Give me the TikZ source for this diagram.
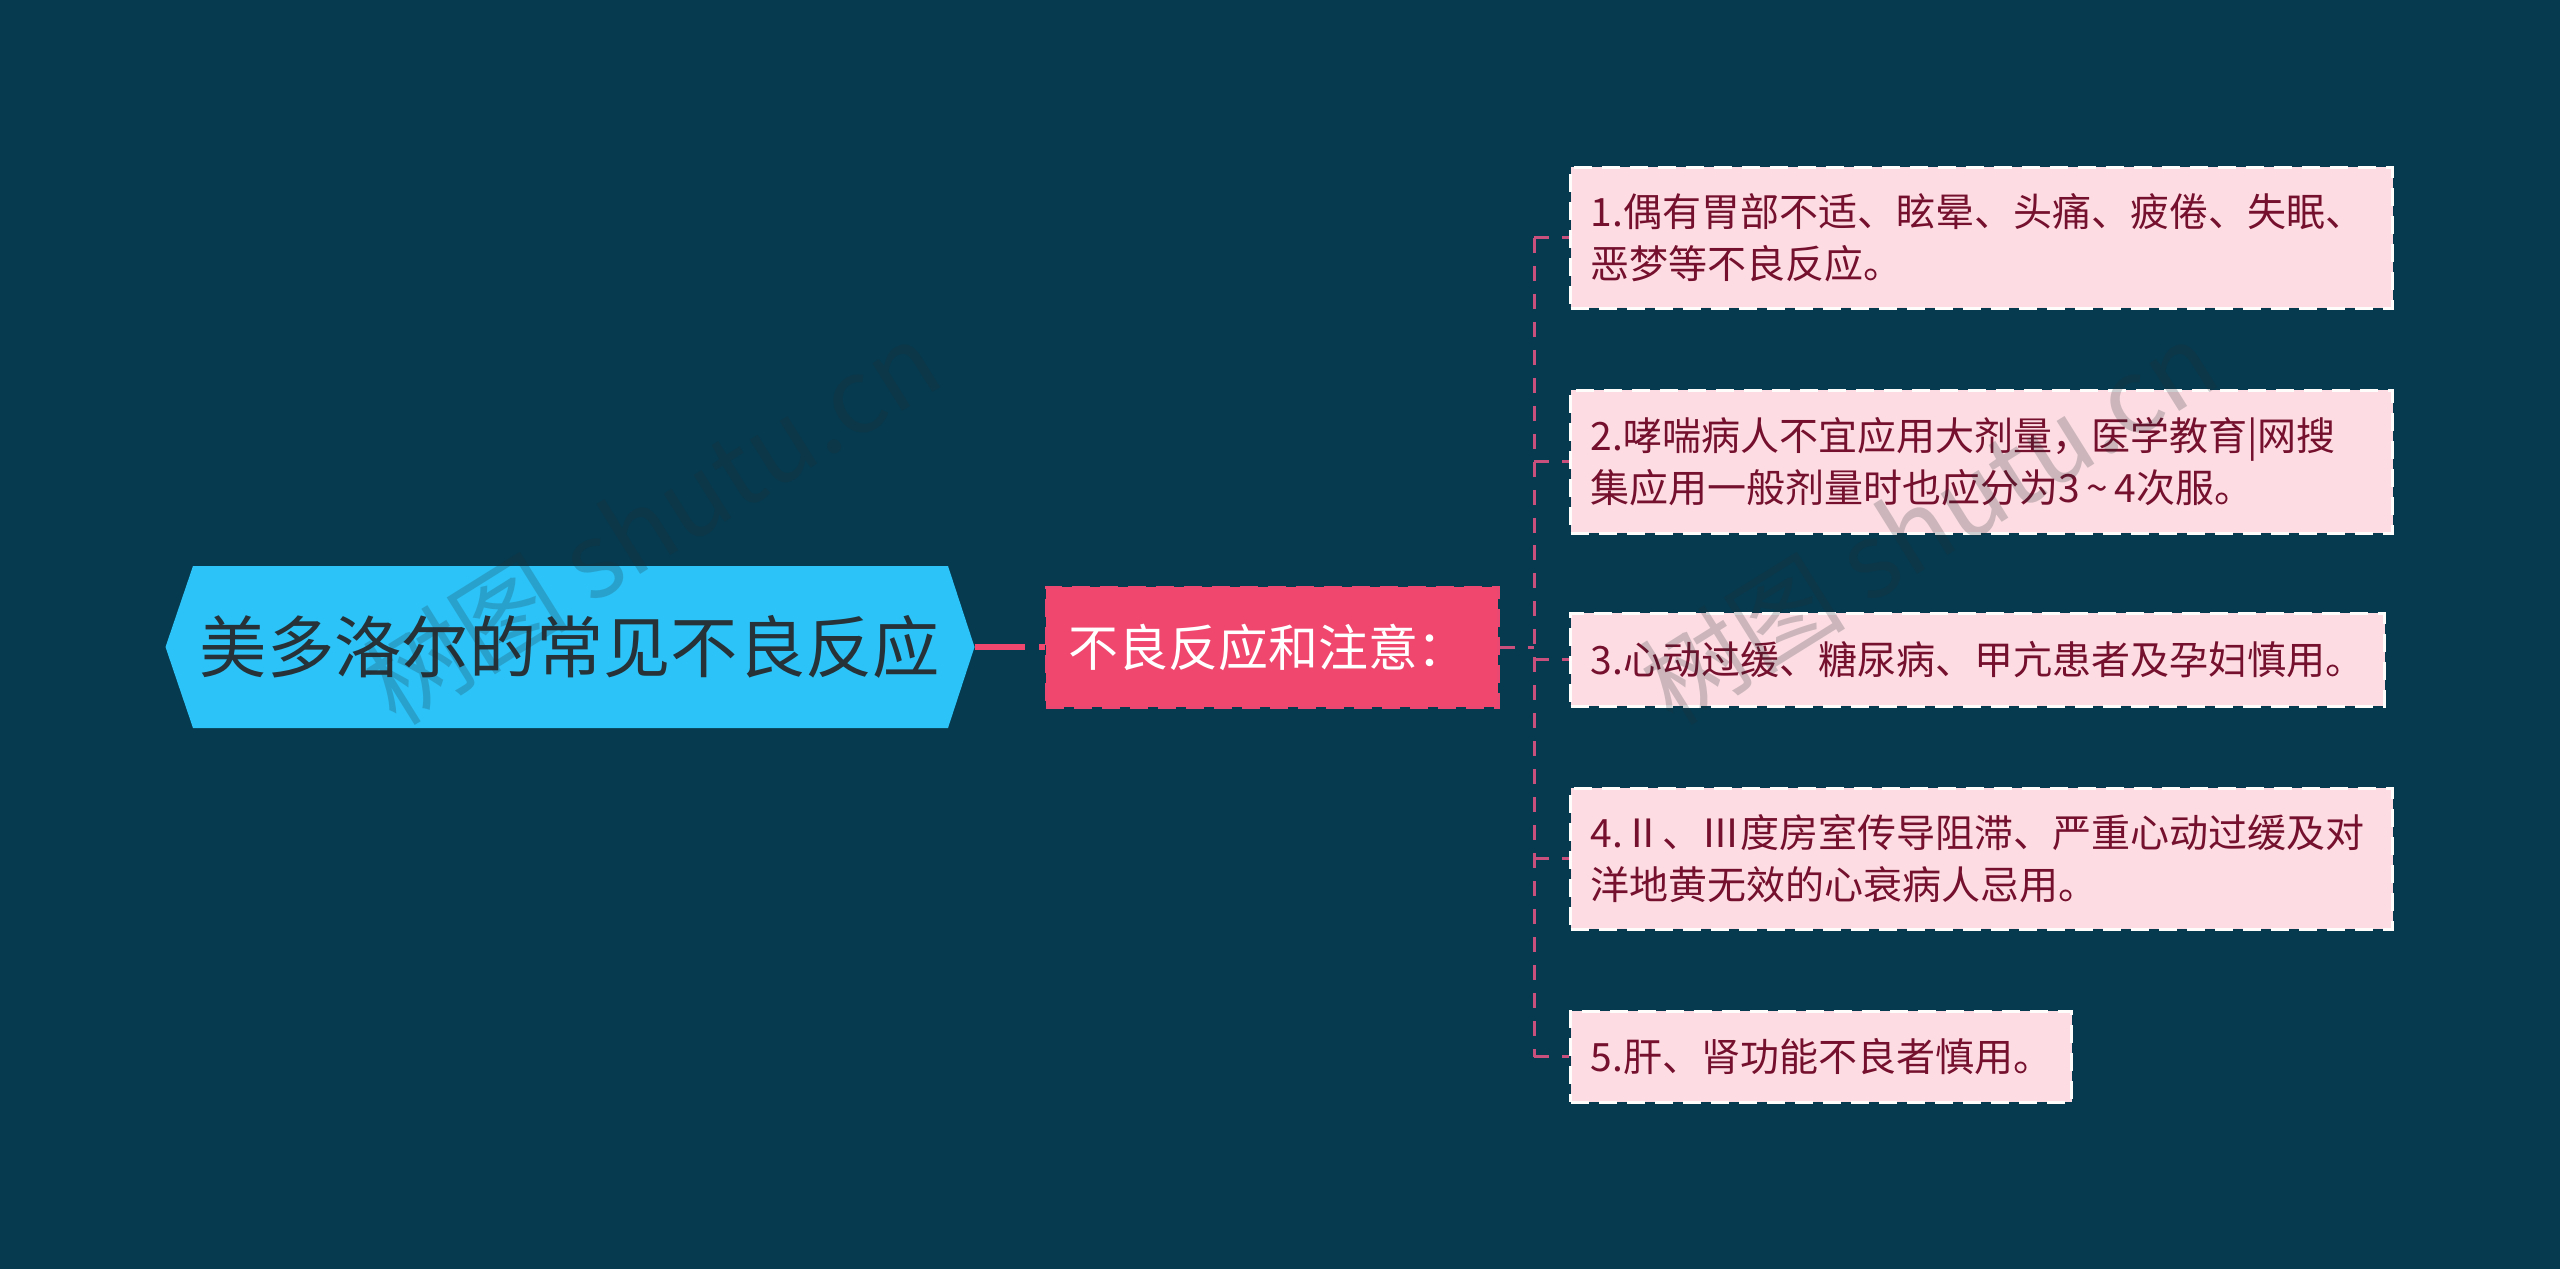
\documentclass[tikz,border=0pt]{standalone}
\usepackage{fontspec}
\setmainfont{Noto Sans CJK SC}
\definecolor{bgblue}{HTML}{063A4F}
\definecolor{rootblue}{HTML}{2CC3F8}
\definecolor{rootink}{HTML}{263238}
\definecolor{topicpink}{HTML}{F0476F}
\definecolor{linepink}{HTML}{C94F7C}
\definecolor{leafpink}{HTML}{FDDDE3}
\definecolor{leafink}{HTML}{75112E}
\definecolor{stampgray}{HTML}{1E2D32}
\tikzset{
  rootbox/.style={inner sep=0pt, minimum width=8.09cm, minimum height=1.62cm,
    text=rootink, font=\fontsize{19.15}{23}\selectfont},
  topicbox/.style={rectangle, draw=topicpink!85!linepink, line width=0.3mm, fill=topicpink,
    dash pattern=on 1.8mm off 1mm, minimum width=4.52cm, minimum height=1.2cm, inner sep=0pt,
    text=white, font=\fontsize{14.2}{18}\selectfont},
  leafbox/.style={rectangle, draw=white!90!leafpink, line width=0.3mm, fill=leafpink,
    dash pattern=on 1.8mm off 1mm, anchor=west, inner xsep=2mm, inner ysep=0pt,
    text width=#1, align=left, text=leafink, font=\fontsize{11.1}{14.8}\selectfont},
  rootlink/.style={topicpink, line width=0.6mm, dash pattern=on 5mm off 1.4mm},
  branch/.style={linepink, line width=0.3mm, dash pattern=on 1.5mm off 1.3mm},
  stamp/.style={rotate=32, text=stampgray, text opacity=0.22, font=\fontsize{29.5}{34}\selectfont}
}
\begin{document}
\begin{tikzpicture}[x=0.1mm,y=-0.1mm]

    % --- Page ---
    \useasboundingbox (0,0) rectangle (2560,1269);
    \fill[bgblue] (0,0) rectangle (2560,1269);

    % --- Root hexagon ---
    \fill[rootblue] (165.5,647) -- (193,566) -- (948,566) -- (974.5,647) -- (948,728) -- (193,728) -- cycle;
    \node[rootbox] (root) at (570,647) {\raisebox{0.2mm}{美多洛尔的常见不良反应}};

    % --- Topic ---
    \node[topicbox] (topic) at (1272,647) {\hspace*{-0.75mm}不良反应和注意：};

    % --- Leaves ---
    \node[leafbox=7.82cm, minimum height=1.41cm] (leafA) at (1569,237.5) {1.偶有胃部不适、眩晕、头痛、疲倦、失眠、\\恶梦等不良反应。};
    \node[leafbox=7.82cm, minimum height=1.43cm] (leafB) at (1569,461.5) {2.哮喘病人不宜应用大剂量，医学教育|网搜\\集应用一般剂量时也应分为3\,\textasciitilde\,4次服。};
    \node[leafbox=7.74cm, minimum height=0.93cm] (leafC) at (1569,659.5) {3.心动过缓、糖尿病、甲亢患者及孕妇慎用。};
    \node[leafbox=7.82cm, minimum height=1.41cm] (leafD) at (1569,858.5) {4.Ⅱ、Ⅲ度房室传导阻滞、严重心动过缓及对\\洋地黄无效的心衰病人忌用。};
    \node[leafbox=4.61cm, minimum height=0.91cm] (leafE) at (1569,1056.5) {5.肝、肾功能不良者慎用。};

    % --- Connectors ---
    \coordinate (trunk) at (1534,647);
    \draw[rootlink] (root.east) -- (topic.west);
    \draw[branch] (topic.east) -- (trunk);
    \draw[branch] (trunk |- leafA.west) -- (trunk |- leafE.west);
    \draw[branch] (trunk |- leafA.west) -- (leafA.west);
    \draw[branch] (trunk |- leafB.west) -- (leafB.west);
    \draw[branch] (trunk |- leafC.west) -- (leafC.west);
    \draw[branch] (trunk |- leafD.west) -- (leafD.west);
    \draw[branch] (trunk |- leafE.west) -- (leafE.west);

    % --- Watermarks ---
    \node[stamp] (stampA) at (651,522) {树图 shutu.cn};
    \node[stamp] (stampB) at (1928,522) {树图 shutu.cn};

\end{tikzpicture}
\end{document}
